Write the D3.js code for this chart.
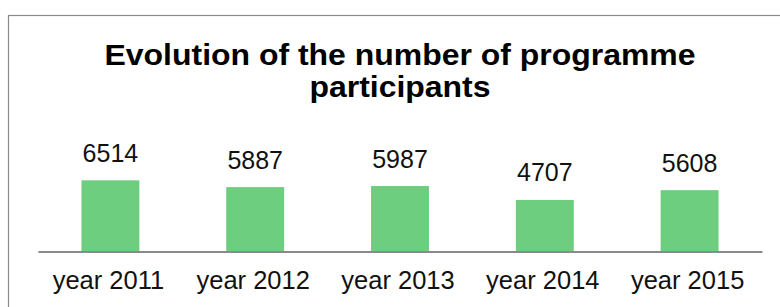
<!DOCTYPE html>
<html>
<head>
<meta charset="utf-8">
<script src="https://cdn.jsdelivr.net/npm/d3@7"></script>
<style>
  body { margin: 0; background: #fff; }
  svg text { font-family: Arial, "Liberation Sans", sans-serif; }
</style>
</head>
<body>
<script>
// chart data
var years = ["year 2011", "year 2012", "year 2013", "year 2014", "year 2015"];
var participants = [6514, 5887, 5987, 4707, 5608];
var titleLines = ["Evolution of the number of programme", "participants"];

var width = 780, height = 307;

var svg = d3.select("body").append("svg")
  .attr("width", width)
  .attr("height", height);

// outer chart frame (runs off the right and bottom edges)
svg.append("rect")
  .attr("x", 8.5).attr("y", 15.5)
  .attr("width", 800).attr("height", 400)
  .attr("fill", "none")
  .attr("stroke", "#8a8a8a")
  .attr("stroke-width", 1.2);

var xScale = d3.scaleBand().domain(years)
  .range([38, 762]).paddingInner(0.6).paddingOuter(0.3);
var yScale = d3.scaleLinear().domain([0, 7000]).range([251, 175.05]);

// title, a bit wider than the plain font
svg.append("text")
  .attr("transform", "translate(400,0) scale(1.065,1)")
  .attr("x", 0).attr("y", 65)
  .attr("text-anchor", "middle")
  .attr("font-size", "30px").attr("font-weight", "bold")
  .attr("fill", "#000")
  .selectAll("tspan")
  .data(titleLines)
  .enter().append("tspan")
  .attr("x", 0)
  .attr("dy", function(d, i) { return i == 0 ? 0 : 32; })
  .text(function(d) { return d; });

var data = years.map(function(y, i) { return {year: y, count: participants[i]}; });

svg.selectAll(".bar")
  .data(data)
  .enter().append("rect")
  .attr("class", "bar")
  .attr("x", function(d) { return xScale(d.year); })
  .attr("y", function(d) { return yScale(d.count); })
  .attr("width", xScale.bandwidth())
  .attr("height", function(d) { return yScale(0) - yScale(d.count); })
  .attr("fill", "#6dce7f");

// value labels
svg.selectAll(".val")
  .data(data)
  .enter().append("text")
  .attr("class", "val")
  .attr("x", function(d) { return xScale(d.year) + xScale.bandwidth() / 2; })
  .attr("y", function(d) { return yScale(d.count) - 18.5; })
  .attr("text-anchor", "middle")
  .attr("font-size", "25px")
  .attr("fill", "#111")
  .text(function(d) { return d.count; });

// category axis
var axis = svg.append("g")
  .attr("transform", "translate(0," + 251.5 + ")")
  .call(d3.axisBottom(xScale).tickSize(0).tickSizeOuter(0));

axis.select(".domain")
  .attr("stroke", "#8a8a8a")
  .attr("stroke-width", 2);

axis.selectAll(".tick")
  .attr("transform", function(d) { return "translate(" + (xScale(d) + xScale.bandwidth() / 2 - 2) + ",0)"; });

axis.selectAll("text")
  .attr("y", 37.2)
  .attr("dy", null)
  .attr("font-size", "25.5px")
  .attr("font-family", "Arial, 'Liberation Sans', sans-serif")
  .attr("fill", "#111");
</script>
</body>
</html>
